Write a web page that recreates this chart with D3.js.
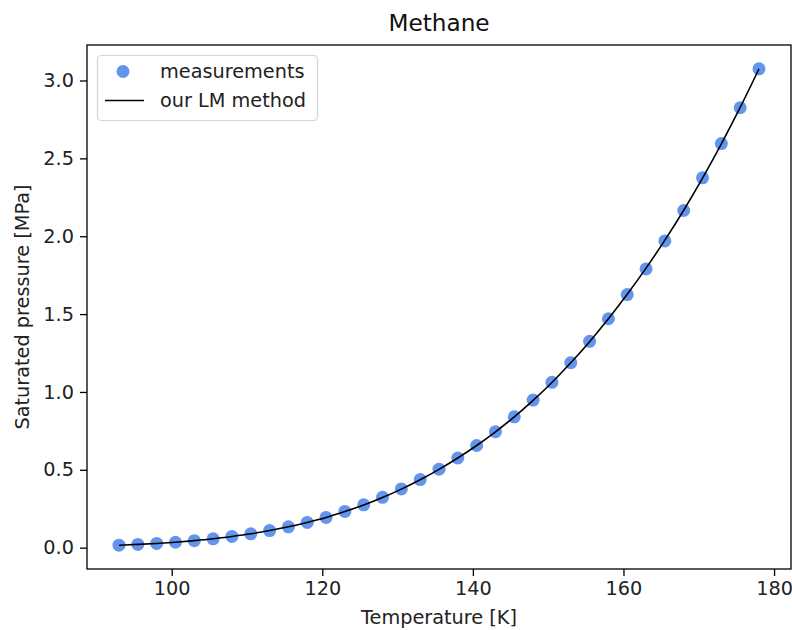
<!DOCTYPE html>
<html>
<head>
<meta charset="utf-8">
<script src="https://cdn.jsdelivr.net/npm/d3@7"></script>
<style>
  body { margin: 0; background: #fff; }
  svg { display: block; font-family: 'DejaVu Sans', sans-serif; }
</style>
</head>
<body>
<svg></svg>
<script>
// temperatures [K]
const temps = [93, 95.5, 98, 100.5, 103, 105.5, 108, 110.5, 113, 115.5, 118, 120.5,
  123, 125.5, 128, 130.5, 133, 135.5, 138, 140.5, 143, 145.5, 148, 150.5, 153,
  155.5, 158, 160.5, 163, 165.5, 168, 170.5, 173, 175.5, 178];

// measured saturated pressure [MPa]
const measured = [0.016, 0.021, 0.027, 0.035, 0.045, 0.057, 0.072, 0.089, 0.11, 0.134,
  0.162, 0.194, 0.233, 0.275, 0.323, 0.377, 0.437, 0.504, 0.576, 0.656, 0.745, 0.84,
  0.948, 1.062, 1.188, 1.325, 1.47, 1.625, 1.79, 1.97, 2.165, 2.375, 2.595, 2.825, 3.075];

// LM fit evaluated at the same temperatures
const fitted = [0.016, 0.021, 0.027, 0.035, 0.045, 0.057, 0.072, 0.089, 0.11, 0.134,
  0.162, 0.194, 0.232, 0.274, 0.322, 0.376, 0.436, 0.503, 0.576, 0.656, 0.744, 0.84,
  0.946, 1.061, 1.187, 1.323, 1.47, 1.627, 1.795, 1.975, 2.167, 2.373, 2.593, 2.827, 3.075];

const xTicks = [100, 120, 140, 160, 180];
const yTicks = [0.0, 0.5, 1.0, 1.5, 2.0, 2.5, 3.0];

let width = 792;
let height = 630;
const m = { left: 87, right: 791, top: 45, bottom: 569 };

let svg = d3.select('svg')
  .attr('width', width)
  .attr('height', height);

// matplotlib style 5% margins
const xmin = d3.min(temps), xmax = d3.max(temps);
const ymin = d3.min(measured), ymax = d3.max(measured);
const xpad = (xmax - xmin) * 0.05, ypad = (ymax - ymin) * 0.05;

const x = d3.scaleLinear().domain([xmin - xpad, xmax + xpad]).range([m.left, m.right]);
const y = d3.scaleLinear().domain([ymin - ypad, ymax + ypad]).range([m.bottom, m.top]);

const fontSize = 19.3;

// axes
const xAxis = svg.append('g')
  .attr('transform', `translate(0,${m.bottom})`)
  .call(d3.axisBottom(x).tickValues(xTicks).tickFormat(d3.format('d')).tickSize(7).tickPadding(5));
const yAxis = svg.append('g')
  .attr('transform', `translate(${m.left},0)`)
  .call(d3.axisLeft(y).tickValues(yTicks).tickFormat(d3.format('.1f')).tickSize(7).tickPadding(6));

[xAxis, yAxis].forEach(a => {
  a.select('.domain').remove();
  a.selectAll('line').attr('stroke', '#000').attr('stroke-width', 1.3);
  a.selectAll('text')
    .attr('fill', '#222')
    .style('font-family', "'DejaVu Sans', sans-serif")
    .style('font-size', fontSize + 'px');
});

// data
const pts = temps.map((t, i) => ({ t: t, p: measured[i], f: fitted[i] }));

svg.append('g')
  .selectAll('circle')
  .data(pts)
  .enter()
  .append('circle')
  .attr('cx', d => x(d.t))
  .attr('cy', d => y(d.p))
  .attr('r', 6.5)
  .attr('fill', '#6495ED');

const line = d3.line()
  .x(d => x(d.t))
  .y(d => y(d.f))
  .curve(d3.curveMonotoneX);

svg.append('path')
  .datum(pts)
  .attr('d', line)
  .attr('fill', 'none')
  .attr('stroke', '#000')
  .attr('stroke-width', 1.6);

// frame
svg.append('rect')
  .attr('x', m.left)
  .attr('y', m.top)
  .attr('width', m.right - m.left)
  .attr('height', m.bottom - m.top)
  .attr('fill', 'none')
  .attr('stroke', '#000')
  .attr('stroke-width', 1.3);

// title and labels
svg.append('text')
  .attr('x', (m.left + m.right) / 2)
  .attr('y', 31)
  .attr('text-anchor', 'middle')
  .attr('fill', '#111')
  .style('font-size', '23.2px')
  .text('Methane');

svg.append('text')
  .attr('x', (m.left + m.right) / 2)
  .attr('y', 624)
  .attr('text-anchor', 'middle')
  .attr('fill', '#222')
  .style('font-size', fontSize + 'px')
  .text('Temperature [K]');

svg.append('text')
  .attr('transform', `translate(29,${(m.top + m.bottom) / 2}) rotate(-90)`)
  .attr('text-anchor', 'middle')
  .attr('fill', '#222')
  .style('font-size', fontSize + 'px')
  .text('Saturated pressure [MPa]');

// legend
let legend = svg.append('g');
legend.append('rect')
  .attr('x', 97.5)
  .attr('y', 55.5)
  .attr('width', 220)
  .attr('height', 65)
  .attr('rx', 4)
  .attr('fill', 'rgba(255,255,255,0.8)')
  .attr('stroke', '#d6d6d6')
  .attr('stroke-width', 1.2);

legend.append('circle')
  .attr('cx', 123)
  .attr('cy', 71.5)
  .attr('r', 6.5)
  .attr('fill', '#6495ED');

legend.append('line')
  .attr('x1', 105)
  .attr('x2', 144)
  .attr('y1', 100.5)
  .attr('y2', 100.5)
  .attr('stroke', '#000')
  .attr('stroke-width', 1.6);

legend.selectAll('text.lbl')
  .data(['measurements', 'our LM method'])
  .enter()
  .append('text')
  .attr('class', 'lbl')
  .attr('x', 160)
  .attr('y', (d, i) => 78 + i * 29)
  .attr('fill', '#222')
  .style('font-size', fontSize + 'px')
  .text(d => d);
</script>
</body>
</html>
